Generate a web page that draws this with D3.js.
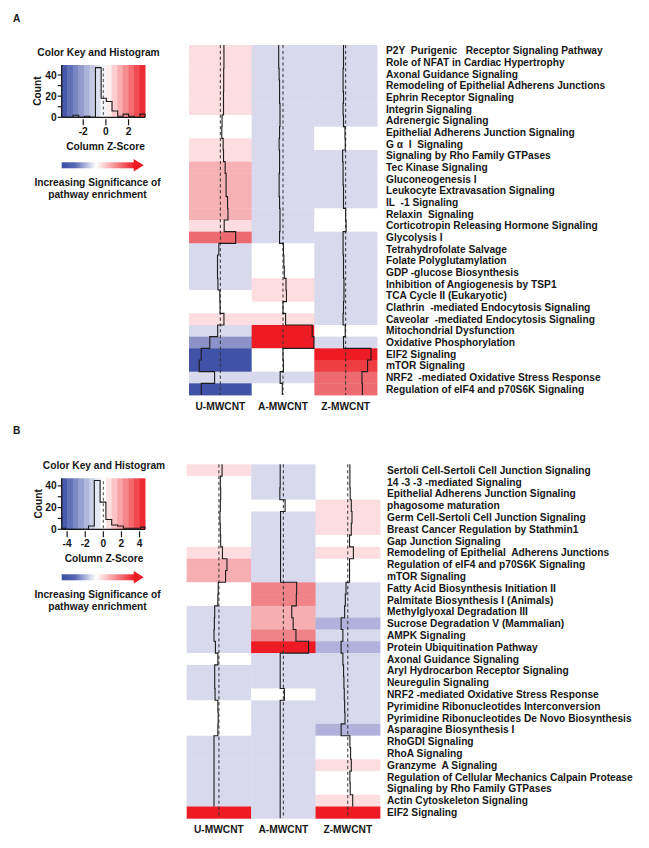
<!DOCTYPE html>
<html><head><meta charset="utf-8">
<script src="https://cdn.jsdelivr.net/npm/d3@7"></script>
<style>
html,body{margin:0;padding:0;background:#fff;}
svg text{font-family:"Liberation Sans",Arial,sans-serif;font-weight:bold;fill:#161616;white-space:pre;}
</style></head>
<body><svg id="chart" width="649" height="848"></svg>
<script>
// ---------------- DATA ----------------
const samples = ["U-MWCNT", "A-MWCNT", "Z-MWCNT"];

const pathwaysA = [
  "P2Y  Purigenic   Receptor Signaling Pathway",
  "Role of NFAT in Cardiac Hypertrophy",
  "Axonal Guidance Signaling",
  "Remodeling of Epithelial Adherens Junctions",
  "Ephrin Receptor Signaling",
  "Integrin Signaling",
  "Adrenergic Signaling",
  "Epithelial Adherens Junction Signaling",
  "G α  I  Signaling",
  "Signaling by Rho Family GTPases",
  "Tec Kinase Signaling",
  "Gluconeogenesis I",
  "Leukocyte Extravasation Signaling",
  "IL  -1 Signaling",
  "Relaxin  Signaling",
  "Corticotropin Releasing Hormone Signaling",
  "Glycolysis I",
  "Tetrahydrofolate Salvage",
  "Folate Polyglutamylation",
  "GDP -glucose Biosynthesis",
  "Inhibition of Angiogenesis by TSP1",
  "TCA Cycle II (Eukaryotic)",
  "Clathrin  -mediated Endocytosis Signaling",
  "Caveolar  -mediated Endocytosis Signaling",
  "Mitochondrial Dysfunction",
  "Oxidative Phosphorylation",
  "EIF2 Signaling",
  "mTOR Signaling",
  "NRF2  -mediated Oxidative Stress Response",
  "Regulation of eIF4 and p70S6K Signaling"
];
// column z-scores, panel A
const zA_U = [0.42,0.42,0.39,0.39,0.37,0.37,0.20,0.17,0.33,0.37,0.56,0.67,0.67,0.84,0.89,0.45,1.79,
              -0.17,-0.33,-0.33,-0.28,-0.06,-0.03,0.42,-0.31,-1.23,-2.23,-2.46,-0.67,-2.23];
const zA_A = [-0.50,-0.50,-0.45,-0.40,-0.40,-0.35,-0.35,-0.40,-0.45,-0.40,-0.40,-0.45,-0.45,-0.40,-0.35,-0.35,-0.40,
              0.05,0.10,0.15,0.35,0.40,0.00,0.30,3.40,3.60,0.00,0.05,-0.33,-0.08];
const zA_Z = [-0.25,-0.25,-0.30,-0.30,-0.25,-0.30,-0.25,-0.08,-0.05,-0.35,-0.30,-0.30,-0.25,-0.25,0.00,0.05,-0.30,
              -0.30,-0.25,-0.25,-0.20,-0.20,-0.25,-0.30,-0.05,-0.25,2.95,2.55,1.90,1.95];

const pathwaysB = [
  "Sertoli Cell-Sertoli Cell Junction Signaling",
  "14 -3 -3 -mediated Signaling",
  "Epithelial Adherens Junction Signaling",
  "phagosome maturation",
  "Germ Cell-Sertoli Cell Junction Signaling",
  "Breast Cancer Regulation by Stathmin1",
  "Gap Junction Signaling",
  "Remodeling of Epithelial  Adherens Junctions",
  "Regulation of eIF4 and p70S6K Signaling",
  "mTOR Signaling",
  "Fatty Acid Biosynthesis Initiation II",
  "Palmitate Biosynthesis I (Animals)",
  "Methylglyoxal Degradation III",
  "Sucrose Degradation V (Mammalian)",
  "AMPK Signaling",
  "Protein Ubiquitination Pathway",
  "Axonal Guidance Signaling",
  "Aryl Hydrocarbon Receptor Signaling",
  "Neuregulin Signaling",
  "NRF2 -mediated Oxidative Stress Response",
  "Pyrimidine Ribonucleotides Interconversion",
  "Pyrimidine Ribonucleotides De Novo Biosynthesis",
  "Asparagine Biosynthesis I",
  "RhoGDI Signaling",
  "RhoA Signaling",
  "Granzyme  A Signaling",
  "Regulation of Cellular Mechanics Calpain Protease",
  "Signaling by Rho Family GTPases",
  "Actin Cytoskeleton Signaling",
  "EIF2 Signaling"
];
const zB_U = [0.45,0.20,0.25,0.20,0.15,0.20,0.25,0.50,1.15,0.95,-0.10,-0.15,-0.60,-0.65,-0.70,-0.50,
              -0.15,-0.60,-0.60,-0.55,-0.15,-0.10,-0.15,-0.70,-0.70,-0.70,-0.70,-0.70,-0.70,5.20];
const zB_A = [-0.45,-0.45,-0.50,0.25,-0.40,-0.40,-0.40,-0.40,-0.40,-0.40,1.90,1.85,1.20,1.40,1.80,3.60,
              -0.45,-0.45,-0.45,0.15,-0.45,-0.45,-0.45,-0.45,-0.45,-0.45,-0.45,-0.45,-0.45,-0.45];
const zB_Z = [0.30,0.30,0.35,0.50,0.60,0.50,0.25,0.80,0.25,0.25,-0.25,-0.35,-0.45,-0.95,-0.70,-0.95,
              -0.70,-0.60,-0.55,-0.50,-0.45,-0.40,-0.95,0.30,0.40,0.50,0.30,0.35,0.70,5.20];

// colour bins
const thresholdsA = [-1.8, -0.9, -0.12, 0.27, 0.5, 1.5, 2.3, 2.8];
const paletteA = ["#3f52a7","#8a92c7","#d9d9ee","#ffffff","#fddddf","#f6b1b5","#ec6a70","#ee3c43","#ed1c24"];
const thresholdsB = [-2, -0.85, -0.2, 0.42, 0.9, 1.6, 2.6];
const paletteB = ["#4356a9","#b1b1db","#d9d9ee","#ffffff","#fddddf","#f6aeb2","#f08387","#ed1c24"];

// colour key + histogram
const keyRangeA = [-3.9, 3.45];
const keyTicksA = [-2, 0, 2];
const histEdgesA = [-3.9,-3.4,-2.9,-2.4,-1.9,-1.4,-0.92,-0.42,0.04,0.54,1.04,1.52,2.0,2.5,3.0,3.45];
const histCountsA = [0,0,2,0,1,0,47,18,15,6,1,3,1,0,3];
const countMaxA = 49.5;

const keyRangeB = [-4.6, 4.6];
const keyTicksB = [-4, -2, 0, 2, 4];
const histEdgesB = [-4.6,-4.2,-3.56,-2.92,-2.28,-1.64,-1.0,-0.36,0.28,0.92,1.56,2.2,2.84,3.48,4.12,4.6];
const histCountsB = [1,0,0,0,0,3,45,25,9,4,3,1,1,1,2];
const countMaxB = 47;
const countTicks = [0, 10, 20, 30, 40];
const countLabels = [0, 20, 40];

// ---------------- DRAW ----------------
const svg = d3.select("#chart");
const FS = "10.2px";
const defs = svg.append("defs");
const grad = defs.append("linearGradient").attr("id","sig").attr("x1","0%").attr("x2","100%");
[["0%","#3a4ea5"],["18%","#5667b3"],["47%","#ffffff"],["100%","#ed1c24"]].forEach(s=>
  grad.append("stop").attr("offset",s[0]).attr("stop-color",s[1]));

function panel(cfg){
  const g = svg.append("g");
  // panel letter
  g.append("text").attr("x",cfg.letterX).attr("y",cfg.letterY).style("font-size",FS).text(cfg.letter);

  // ---- heatmap ----
  const x = d3.scaleBand().domain(samples).range([cfg.hx0, cfg.hx1]);
  const y = d3.scaleBand().domain(d3.range(cfg.rows.length)).range([cfg.hy0, cfg.hy1]);
  const color = d3.scaleThreshold().domain(cfg.thresholds).range(cfg.palette);
  const cols = cfg.values;
  const cells = [];
  samples.forEach((s,j)=>cols[j].forEach((v,i)=>cells.push({s,i,v})));
  g.append("g").selectAll("rect").data(cells).join("rect")
    .attr("x",d=>x(d.s)).attr("y",d=>y(d.i))
    .attr("width",x.bandwidth()+0.4).attr("height",y.bandwidth()+0.4)
    .attr("fill",d=>color(d.v));

  samples.forEach((s,j)=>{
    const tx = d3.scaleLinear().domain(cfg.traceDomain).range([x(s), x(s)+x.bandwidth()]);
    const mid = tx((cfg.traceDomain[0]+cfg.traceDomain[1])/2);
    g.append("line").attr("x1",mid).attr("x2",mid).attr("y1",cfg.hy0).attr("y2",cfg.hy1)
      .attr("stroke","#333").attr("stroke-width",1).attr("stroke-dasharray","3.2,2.6");
    const pts = [];
    cols[j].forEach((v,i)=>{
      const ok = v>=cfg.traceDomain[0] && v<=cfg.traceDomain[1];
      pts.push({v,yy:y(i),ok}); pts.push({v,yy:y(i)+y.bandwidth(),ok});
    });
    const line = d3.line().defined(d=>d.ok).x(d=>tx(d.v)).y(d=>d.yy);
    g.append("path").attr("d",line(pts)).attr("fill","none").attr("stroke","#1c1c1c").attr("stroke-width",1.1);
  });

  // column labels
  g.append("g").selectAll("text").data(samples).join("text")
    .attr("x",d=>x(d)+x.bandwidth()/2).attr("y",cfg.colLabelY).attr("text-anchor","middle")
    .attr("dy","0.35em").style("font-size",FS).text(d=>d);
  // row labels
  g.append("g").selectAll("text").data(cfg.rows).join("text")
    .attr("x",cfg.labelX).attr("y",(d,i)=>y(i)+y.bandwidth()/2).attr("dy","0.35em")
    .style("font-size",FS).text(d=>d);

  // ---- colour key ----
  const k = cfg.key;
  const kx = d3.scaleLinear().domain(cfg.keyRange).range([k.x0,k.x1]);
  const ky = d3.scaleLinear().domain([0,cfg.countMax]).range([k.y1,k.y0]);
  const nb = 15;
  const keyCol = d3.scaleLinear().domain([cfg.keyRange[0],0,cfg.keyRange[1]]).range(["#3a4ea5","#ffffff","#ed1c24"]);
  const step = (cfg.keyRange[1]-cfg.keyRange[0])/nb;
  const bins = d3.range(nb).map(i=>cfg.keyRange[0]+i*step);
  g.append("g").selectAll("rect").data(bins).join("rect")
    .attr("x",d=>kx(d)).attr("y",k.y0)
    .attr("width",d=>kx(Math.min(d+step,cfg.keyRange[1]))-kx(d)+0.5)
    .attr("height",k.y1-k.y0).attr("fill",d=>keyCol(d+step/2));
  // vline
  const vl = (cfg.keyRange[0]+cfg.keyRange[1])/2;
  g.append("line").attr("x1",kx(vl)).attr("x2",kx(vl)).attr("y1",k.y0+3).attr("y2",k.y1)
    .attr("stroke","#666").attr("stroke-width",1.2).attr("stroke-dasharray","3,2.5");
  // histogram outline
  const hp = [[cfg.histEdges[0],0]];
  cfg.histCounts.forEach((c,i)=>{hp.push([cfg.histEdges[i],c]);hp.push([cfg.histEdges[i+1],c]);});
  hp.push([cfg.histEdges[cfg.histEdges.length-1],0]);
  g.append("path").attr("d",d3.line().x(d=>kx(d[0])).y(d=>ky(d[1]))(hp))
    .attr("fill","none").attr("stroke","#1a1a1a").attr("stroke-width",1.1);
  // axes
  g.append("line").attr("x1",k.x0).attr("x2",k.x0).attr("y1",k.y0).attr("y2",k.y1).attr("stroke","#1a1a1a").attr("stroke-width",1.3);
  g.append("line").attr("x1",k.x0).attr("x2",k.x1).attr("y1",k.y1).attr("y2",k.y1).attr("stroke","#1a1a1a").attr("stroke-width",1.3);
  g.append("g").selectAll("line").data(countTicks).join("line")
    .attr("x1",k.x0-4).attr("x2",k.x0).attr("y1",d=>ky(d)).attr("y2",d=>ky(d)).attr("stroke","#1a1a1a").attr("stroke-width",1.2);
  g.append("g").selectAll("text").data(countLabels).join("text")
    .attr("x",k.x0-5).attr("y",d=>ky(d)).attr("dy","0.35em").attr("text-anchor","end").style("font-size",FS).text(d=>d);
  g.append("g").selectAll("line").data(cfg.keyTicks).join("line")
    .attr("x1",d=>kx(d)).attr("x2",d=>kx(d)).attr("y1",k.y1+2).attr("y2",k.y1+8).attr("stroke","#1a1a1a").attr("stroke-width",1.2);
  g.append("g").selectAll("text").data(cfg.keyTicks).join("text")
    .attr("x",d=>kx(d)).attr("y",k.y1+14.5).attr("dy","0.35em").attr("text-anchor","middle").style("font-size",FS)
    .text(d=>d<0?"-"+Math.abs(d):d);
  g.append("text").attr("transform",`translate(${k.countX},${(k.y0+k.y1)/2}) rotate(-90)`)
    .attr("text-anchor","middle").attr("dy","0.35em").style("font-size",FS).text("Count");
  g.append("text").attr("x",k.titleX).attr("y",k.y0-13).attr("text-anchor","middle").attr("dy","0.35em")
    .style("font-size",FS).text("Color Key and Histogram");
  g.append("text").attr("x",k.zX).attr("y",k.y1+29).attr("text-anchor","middle").attr("dy","0.35em")
    .style("font-size",FS).text("Column Z-Score");
  // arrow
  const ay = k.y1+48;
  g.append("rect").attr("x",k.x0).attr("y",ay-3).attr("width",73).attr("height",6).attr("fill","url(#sig)");
  g.append("path").attr("d",`M${k.x0+72},${ay-6.2}L${k.x0+82},${ay}L${k.x0+72},${ay+6.2}Z`).attr("fill","#ed1c24");
  g.append("text").attr("x",k.sigX).attr("y",ay+17.5).attr("text-anchor","middle").attr("dy","0.35em")
    .style("font-size",FS).text("Increasing Significance of");
  g.append("text").attr("x",k.sigX).attr("y",ay+29.5).attr("text-anchor","middle").attr("dy","0.35em")
    .style("font-size",FS).text("pathway enrichment");
}

panel({
  letter:"A", letterX:13, letterY:22,
  rows:pathwaysA, values:[zA_U,zA_A,zA_Z],
  hx0:189, hx1:377, hy0:45, hy1:395, labelX:386, colLabelY:406,
  thresholds:thresholdsA, palette:paletteA, traceDomain:[-3.65,3.65],
  keyRange:keyRangeA, keyTicks:keyTicksA, histEdges:histEdgesA, histCounts:histCountsA, countMax:countMaxA,
  key:{x0:61.7,x1:145,y0:65,y1:117.3,countX:37,titleX:98.5,zX:105.5,sigX:97.5}
});
panel({
  letter:"B", letterX:13, letterY:434,
  rows:pathwaysB, values:[zB_U,zB_A,zB_Z],
  hx0:186.7, hx1:380, hy0:464.3, hy1:818.3, labelX:387, colLabelY:829.5,
  thresholds:thresholdsB, palette:paletteB, traceDomain:[-4.6,4.6],
  keyRange:keyRangeB, keyTicks:keyTicksB, histEdges:histEdgesB, histCounts:histCountsB, countMax:countMaxB,
  key:{x0:61.7,x1:145,y0:478.3,y1:529.3,countX:38.5,titleX:104,zX:104,sigX:97.5}
});
</script></body></html>
